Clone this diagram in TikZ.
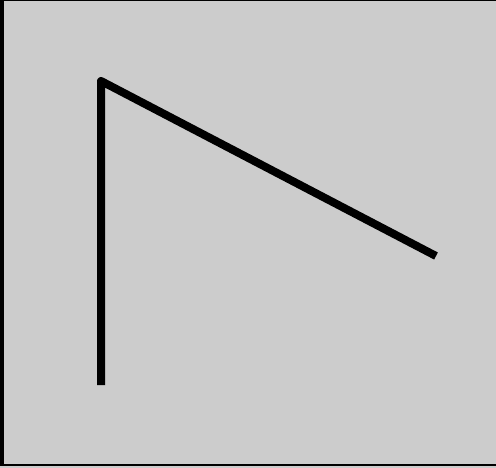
\documentclass[tikz,border=0pt]{standalone}
\begin{document}
\begin{tikzpicture}[x=1pt,y=-1pt,
  bar/.style={fill=black},
  stroke/.style={line width=8pt,line join=round,line cap=butt}]
\fill[gray!40!white,fill={rgb,255:red,204;green,204;blue,204}] (0,0) rectangle (496,468);
\useasboundingbox (0,0) rectangle (496,468);
\fill[bar] (0,0) rectangle (4,466);
\fill[bar] (0,0) rectangle (496,1.5);
\fill[bar] (0,464) rectangle (496,466);
\coordinate (a) at (101,385);
\coordinate (b) at (101,81);
\coordinate (c) at (436,256);
\draw[stroke] (a) -- (b) -- (c);
\end{tikzpicture}
\end{document}
